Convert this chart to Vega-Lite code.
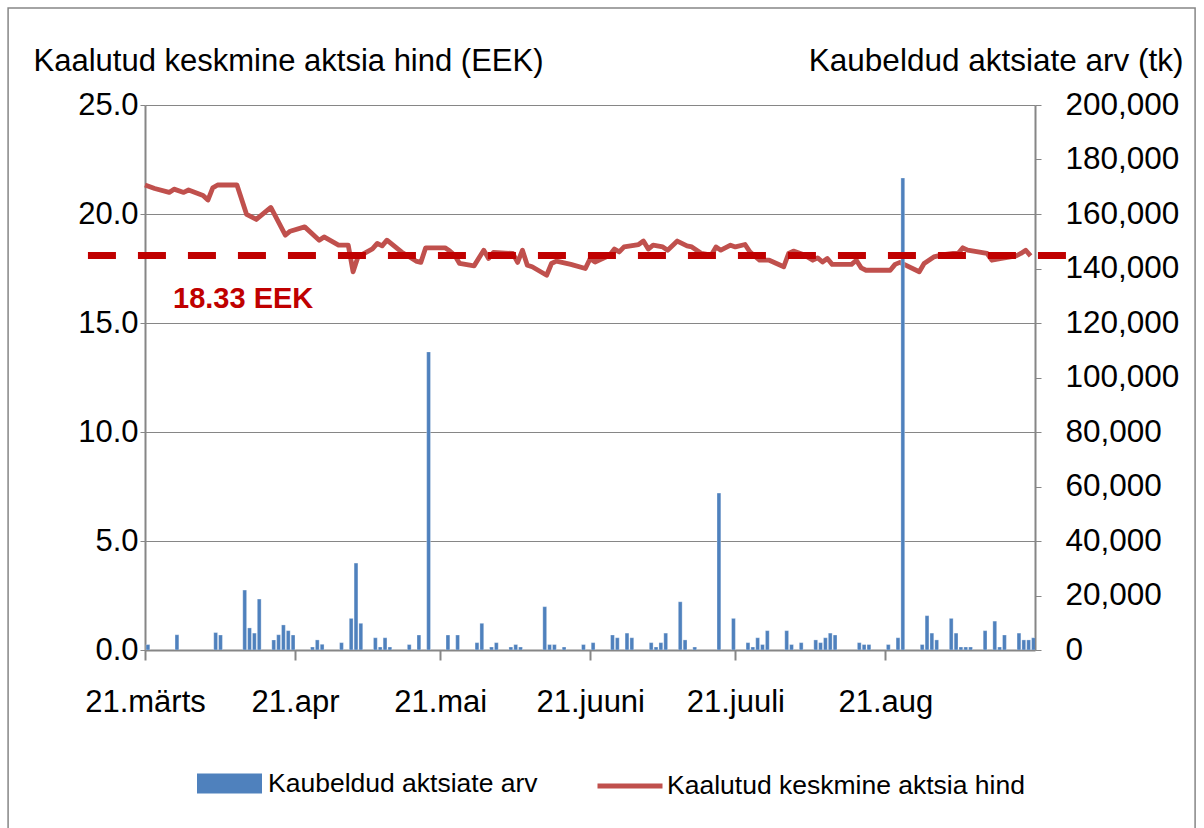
{
  "$schema": "https://vega.github.io/schema/vega-lite/v6.json",
  "width": 890,
  "height": 545,
  "autosize": {"type": "none"},
  "padding": {"left": 145, "top": 105, "right": 169, "bottom": 178},
  "background": "#FFFFFF",
  "config": {
    "font": "Liberation Sans",
    "view": {"stroke": null},
    "axis": {
      "domainColor": "#868686",
      "tickColor": "#868686",
      "gridColor": "#868686",
      "labelColor": "#000000",
      "titleColor": "#000000",
      "labelFont": "Liberation Sans",
      "titleFont": "Liberation Sans",
      "titleFontWeight": "normal"
    },
    "legend": {"labelFont": "Liberation Sans", "labelColor": "#000000"}
  },
  "datasets": {
    "volume": [
      {"date": "2007/03/21", "volume": 2000}, {"date": "2007/03/27", "volume": 5600},
      {"date": "2007/04/04", "volume": 6400}, {"date": "2007/04/05", "volume": 5500},
      {"date": "2007/04/10", "volume": 22000}, {"date": "2007/04/11", "volume": 8100},
      {"date": "2007/04/12", "volume": 6200}, {"date": "2007/04/13", "volume": 18700},
      {"date": "2007/04/16", "volume": 3700}, {"date": "2007/04/17", "volume": 5600},
      {"date": "2007/04/18", "volume": 9200}, {"date": "2007/04/19", "volume": 7100},
      {"date": "2007/04/20", "volume": 5500}, {"date": "2007/04/24", "volume": 1100},
      {"date": "2007/04/25", "volume": 3700}, {"date": "2007/04/26", "volume": 2100},
      {"date": "2007/04/30", "volume": 2700}, {"date": "2007/05/02", "volume": 11600},
      {"date": "2007/05/03", "volume": 31900}, {"date": "2007/05/04", "volume": 9800},
      {"date": "2007/05/07", "volume": 4500}, {"date": "2007/05/08", "volume": 1100},
      {"date": "2007/05/09", "volume": 4500}, {"date": "2007/05/10", "volume": 1100},
      {"date": "2007/05/14", "volume": 2000}, {"date": "2007/05/16", "volume": 5500},
      {"date": "2007/05/18", "volume": 109400}, {"date": "2007/05/22", "volume": 5500},
      {"date": "2007/05/24", "volume": 5500}, {"date": "2007/05/28", "volume": 2700},
      {"date": "2007/05/29", "volume": 9800}, {"date": "2007/05/31", "volume": 1100},
      {"date": "2007/06/01", "volume": 2700}, {"date": "2007/06/04", "volume": 1100},
      {"date": "2007/06/05", "volume": 2000}, {"date": "2007/06/06", "volume": 1100},
      {"date": "2007/06/11", "volume": 15900}, {"date": "2007/06/12", "volume": 2000},
      {"date": "2007/06/13", "volume": 2000}, {"date": "2007/06/15", "volume": 1100},
      {"date": "2007/06/19", "volume": 2000}, {"date": "2007/06/21", "volume": 2700},
      {"date": "2007/06/25", "volume": 5500}, {"date": "2007/06/26", "volume": 4500},
      {"date": "2007/06/28", "volume": 6200}, {"date": "2007/06/29", "volume": 4500},
      {"date": "2007/07/03", "volume": 2700}, {"date": "2007/07/04", "volume": 1100},
      {"date": "2007/07/05", "volume": 2700}, {"date": "2007/07/06", "volume": 6200},
      {"date": "2007/07/09", "volume": 17700}, {"date": "2007/07/10", "volume": 3700},
      {"date": "2007/07/12", "volume": 1100}, {"date": "2007/07/17", "volume": 57600},
      {"date": "2007/07/20", "volume": 11600}, {"date": "2007/07/23", "volume": 2700},
      {"date": "2007/07/24", "volume": 1100}, {"date": "2007/07/25", "volume": 4500},
      {"date": "2007/07/26", "volume": 2000}, {"date": "2007/07/27", "volume": 7100},
      {"date": "2007/07/31", "volume": 7100}, {"date": "2007/08/01", "volume": 2000},
      {"date": "2007/08/03", "volume": 2700}, {"date": "2007/08/06", "volume": 3700},
      {"date": "2007/08/07", "volume": 2700}, {"date": "2007/08/08", "volume": 4500},
      {"date": "2007/08/09", "volume": 6200}, {"date": "2007/08/10", "volume": 5500},
      {"date": "2007/08/15", "volume": 2700}, {"date": "2007/08/16", "volume": 2000},
      {"date": "2007/08/17", "volume": 2000}, {"date": "2007/08/21", "volume": 2000},
      {"date": "2007/08/23", "volume": 4500}, {"date": "2007/08/24", "volume": 173200},
      {"date": "2007/08/28", "volume": 2000}, {"date": "2007/08/29", "volume": 12600},
      {"date": "2007/08/30", "volume": 6200}, {"date": "2007/08/31", "volume": 3700},
      {"date": "2007/09/03", "volume": 11600}, {"date": "2007/09/04", "volume": 6200},
      {"date": "2007/09/05", "volume": 1100}, {"date": "2007/09/06", "volume": 1100},
      {"date": "2007/09/07", "volume": 1100}, {"date": "2007/09/10", "volume": 7100},
      {"date": "2007/09/12", "volume": 10600}, {"date": "2007/09/13", "volume": 1100},
      {"date": "2007/09/14", "volume": 5500}, {"date": "2007/09/17", "volume": 6200},
      {"date": "2007/09/18", "volume": 3700}, {"date": "2007/09/19", "volume": 3700},
      {"date": "2007/09/20", "volume": 4500}
    ],
    "price": [
      {"date": "2007/03/21", "price": 21.33}, {"date": "2007/03/23", "price": 21.17},
      {"date": "2007/03/26", "price": 20.99}, {"date": "2007/03/27", "price": 21.14},
      {"date": "2007/03/29", "price": 20.99}, {"date": "2007/03/30", "price": 21.1},
      {"date": "2007/04/02", "price": 20.85}, {"date": "2007/04/03", "price": 20.64},
      {"date": "2007/04/04", "price": 21.2}, {"date": "2007/04/05", "price": 21.33},
      {"date": "2007/04/09", "price": 21.33}, {"date": "2007/04/11", "price": 19.98},
      {"date": "2007/04/13", "price": 19.75}, {"date": "2007/04/16", "price": 20.3},
      {"date": "2007/04/19", "price": 19.03}, {"date": "2007/04/20", "price": 19.21},
      {"date": "2007/04/23", "price": 19.41}, {"date": "2007/04/26", "price": 18.8},
      {"date": "2007/04/27", "price": 18.95}, {"date": "2007/04/30", "price": 18.57},
      {"date": "2007/05/02", "price": 18.57}, {"date": "2007/05/03", "price": 17.35},
      {"date": "2007/05/04", "price": 18.03}, {"date": "2007/05/07", "price": 18.4},
      {"date": "2007/05/08", "price": 18.65}, {"date": "2007/05/09", "price": 18.54},
      {"date": "2007/05/10", "price": 18.8}, {"date": "2007/05/13", "price": 18.26},
      {"date": "2007/05/16", "price": 17.84}, {"date": "2007/05/17", "price": 17.78},
      {"date": "2007/05/18", "price": 18.45}, {"date": "2007/05/20", "price": 18.45},
      {"date": "2007/05/22", "price": 18.45}, {"date": "2007/05/23", "price": 18.3},
      {"date": "2007/05/24", "price": 18.11}, {"date": "2007/05/25", "price": 17.73},
      {"date": "2007/05/28", "price": 17.62}, {"date": "2007/05/30", "price": 18.34},
      {"date": "2007/05/31", "price": 17.96}, {"date": "2007/06/01", "price": 18.24},
      {"date": "2007/06/05", "price": 18.19}, {"date": "2007/06/06", "price": 17.78},
      {"date": "2007/06/07", "price": 18.34}, {"date": "2007/06/08", "price": 17.65},
      {"date": "2007/06/09", "price": 17.58}, {"date": "2007/06/12", "price": 17.19},
      {"date": "2007/06/13", "price": 17.73}, {"date": "2007/06/14", "price": 17.84},
      {"date": "2007/06/17", "price": 17.69}, {"date": "2007/06/20", "price": 17.5},
      {"date": "2007/06/21", "price": 17.96}, {"date": "2007/06/22", "price": 17.8},
      {"date": "2007/06/25", "price": 18.11}, {"date": "2007/06/26", "price": 18.39},
      {"date": "2007/06/27", "price": 18.26}, {"date": "2007/06/28", "price": 18.49},
      {"date": "2007/07/01", "price": 18.6}, {"date": "2007/07/02", "price": 18.76},
      {"date": "2007/07/03", "price": 18.39}, {"date": "2007/07/04", "price": 18.57},
      {"date": "2007/07/06", "price": 18.49}, {"date": "2007/07/07", "price": 18.34},
      {"date": "2007/07/09", "price": 18.76}, {"date": "2007/07/11", "price": 18.54},
      {"date": "2007/07/12", "price": 18.49}, {"date": "2007/07/14", "price": 18.19},
      {"date": "2007/07/16", "price": 18.11}, {"date": "2007/07/17", "price": 18.49},
      {"date": "2007/07/18", "price": 18.34}, {"date": "2007/07/20", "price": 18.57},
      {"date": "2007/07/21", "price": 18.49}, {"date": "2007/07/23", "price": 18.6},
      {"date": "2007/07/24", "price": 18.26}, {"date": "2007/07/26", "price": 17.88},
      {"date": "2007/07/28", "price": 17.88}, {"date": "2007/07/31", "price": 17.58},
      {"date": "2007/08/01", "price": 18.19}, {"date": "2007/08/02", "price": 18.3},
      {"date": "2007/08/04", "price": 18.14}, {"date": "2007/08/06", "price": 17.88},
      {"date": "2007/08/07", "price": 17.99}, {"date": "2007/08/08", "price": 17.8},
      {"date": "2007/08/09", "price": 17.96}, {"date": "2007/08/10", "price": 17.69},
      {"date": "2007/08/14", "price": 17.69}, {"date": "2007/08/15", "price": 17.88},
      {"date": "2007/08/16", "price": 17.53}, {"date": "2007/08/17", "price": 17.42},
      {"date": "2007/08/22", "price": 17.42}, {"date": "2007/08/23", "price": 17.69},
      {"date": "2007/08/24", "price": 17.78}, {"date": "2007/08/28", "price": 17.35},
      {"date": "2007/08/29", "price": 17.73}, {"date": "2007/08/31", "price": 18.03},
      {"date": "2007/09/02", "price": 18.14}, {"date": "2007/09/04", "price": 18.19},
      {"date": "2007/09/05", "price": 18.19}, {"date": "2007/09/06", "price": 18.45},
      {"date": "2007/09/07", "price": 18.34}, {"date": "2007/09/11", "price": 18.19},
      {"date": "2007/09/12", "price": 17.88}, {"date": "2007/09/14", "price": 17.96},
      {"date": "2007/09/17", "price": 18.08}, {"date": "2007/09/18", "price": 18.19},
      {"date": "2007/09/19", "price": 18.34}, {"date": "2007/09/20", "price": 18.08}
    ]
  },
  "layer": [
    {
      "layer": [
        {
          "data": {"name": "price"},
          "mark": {"type": "line", "strokeWidth": 4.8, "strokeJoin": "round", "timeUnitBandPosition": 0.5},
          "encoding": {
            "x": {
              "field": "date",
              "type": "temporal",
              "timeUnit": "yearmonthdate",
              "scale": {
                "domain": [
                  {"year": 2007, "month": 3, "date": 21},
                  {"year": 2007, "month": 9, "date": 20, "hours": 22}
                ]
              },
              "axis": {
                "title": null,
                "values": [
                  {"year": 2007, "month": 3, "date": 21},
                  {"year": 2007, "month": 4, "date": 21},
                  {"year": 2007, "month": 5, "date": 21},
                  {"year": 2007, "month": 6, "date": 21},
                  {"year": 2007, "month": 7, "date": 21},
                  {"year": 2007, "month": 8, "date": 21}
                ],
                "labelExpr": "['21.märts','21.apr','21.mai','21.juuni','21.juuli','21.aug'][month(datum.value)-2]",
                "grid": false,
                "domainWidth": 2,
                "tickWidth": 2,
                "tickSize": 10,
                "labelPadding": 27,
                "labelFontSize": 31,
                "labelFlush": false,
                "labelOverlap": false
              }
            },
            "y": {"field": "price", "type": "quantitative"},
            "color": {
              "datum": "Kaalutud keskmine aktsia hind",
              "scale": {"range": ["#C0504D"]},
              "legend": {
                "orient": "none",
                "legendX": 450,
                "legendY": 646,
                "padding": 0,
                "symbolType": "stroke",
                "symbolSize": 4225,
                "symbolStrokeWidth": 5,
                "labelFontSize": 26.5,
                "labelOffset": 2,
                "labelLimit": 600
              }
            }
          }
        }
      ],
      "encoding": {
        "y": {
          "type": "quantitative",
          "scale": {"domain": [0, 25], "nice": false},
          "axis": {
            "orient": "left",
            "values": [0, 5, 10, 15, 20, 25],
            "format": ".1f",
            "grid": true,
            "gridWidth": 1,
            "domainWidth": 2,
            "tickSize": 5,
            "labelPadding": 2,
            "labelFontSize": 31,
            "title": "Kaalutud keskmine aktsia hind (EEK)",
            "titleAngle": 0,
            "titleAlign": "left",
            "titleBaseline": "alphabetic",
            "titleX": -112,
            "titleY": -35,
            "titleFontSize": 31
          }
        }
      }
    },
    {
      "data": {"name": "volume"},
      "mark": {"type": "bar", "color": "#4F81BD", "stroke": "#FFFFFF", "strokeWidth": 0.5, "strokeOpacity": 0.6, "clip": true},
      "encoding": {
        "x": {
          "field": "date",
          "type": "temporal",
          "timeUnit": "yearmonthdate",
          "scale": {
            "domain": [
              {"year": 2007, "month": 3, "date": 21},
              {"year": 2007, "month": 9, "date": 20, "hours": 22}
            ]
          },
          "axis": {
            "title": null,
            "values": [
              {"year": 2007, "month": 3, "date": 21},
              {"year": 2007, "month": 4, "date": 21},
              {"year": 2007, "month": 5, "date": 21},
              {"year": 2007, "month": 6, "date": 21},
              {"year": 2007, "month": 7, "date": 21},
              {"year": 2007, "month": 8, "date": 21}
            ],
            "labelExpr": "['21.märts','21.apr','21.mai','21.juuni','21.juuli','21.aug'][month(datum.value)-2]",
            "grid": false,
            "domainWidth": 2,
            "tickWidth": 2,
            "tickSize": 10,
            "labelPadding": 27,
            "labelFontSize": 31,
            "labelFlush": false,
            "labelOverlap": false
          }
        },
        "y": {
          "field": "volume",
          "type": "quantitative",
          "scale": {"domain": [0, 200000], "nice": false},
          "axis": {
            "orient": "right",
            "values": [0, 20000, 40000, 60000, 80000, 100000, 120000, 140000, 160000, 180000, 200000],
            "format": ",.0f",
            "grid": false,
            "domainWidth": 2,
            "tickSize": 6,
            "labelPadding": 24,
            "labelFontSize": 31.5,
            "title": "Kaubeldud aktsiate arv (tk)",
            "titleAngle": 0,
            "titleAlign": "right",
            "titleBaseline": "alphabetic",
            "titleX": 148,
            "titleY": -35,
            "titleFontSize": 31.5
          }
        },
        "color": {
          "datum": "Kaubeldud aktsiate arv",
          "scale": {"range": ["#4F81BD"]},
          "legend": {
            "orient": "none",
            "legendX": 52,
            "legendY": 646,
            "padding": 0,
            "symbolType": "M-1,-0.31H1V0.31H-1Z",
            "symbolSize": 4225,
            "symbolStrokeWidth": 0,
            "labelFontSize": 26.5,
            "labelOffset": 6,
            "labelLimit": 600
          }
        }
      }
    },
    {
      "data": {"values": [{}]},
      "layer": [
        {
          "mark": {"type": "rule", "color": "#C00000", "strokeWidth": 7, "strokeDash": [28, 22], "clip": false},
          "encoding": {
            "x": {"datum": {"year": 2007, "month": 3, "date": 9, "hours": 5}, "type": "temporal"},
            "x2": {"datum": {"year": 2007, "month": 9, "date": 28, "hours": 4}},
            "y": {"datum": 18.1, "type": "quantitative"}
          }
        },
        {
          "mark": {"type": "text", "color": "#C00000", "fontSize": 29, "fontWeight": "bold", "align": "left", "baseline": "alphabetic", "text": "18.33 EEK"},
          "encoding": {
            "x": {"datum": {"year": 2007, "month": 3, "date": 26, "hours": 19}, "type": "temporal"},
            "y": {"datum": 15.7, "type": "quantitative"}
          }
        },
        {
          "mark": {"type": "rect", "fill": null, "filled": false, "stroke": "#868686", "strokeWidth": 1.5, "clip": false},
          "encoding": {
            "x": {"datum": {"year": 2007, "month": 2, "date": 20, "hours": 17}, "type": "temporal"},
            "x2": {"datum": {"year": 2007, "month": 10, "date": 24, "hours": 0}},
            "y": {"datum": 29.45, "type": "quantitative"},
            "y2": {"datum": -9}
          }
        }
      ],
      "encoding": {
        "y": {"type": "quantitative", "scale": {"domain": [0, 25], "nice": false}, "axis": null}
      }
    }
  ],
  "resolve": {"scale": {"y": "independent", "color": "independent"}}
}
